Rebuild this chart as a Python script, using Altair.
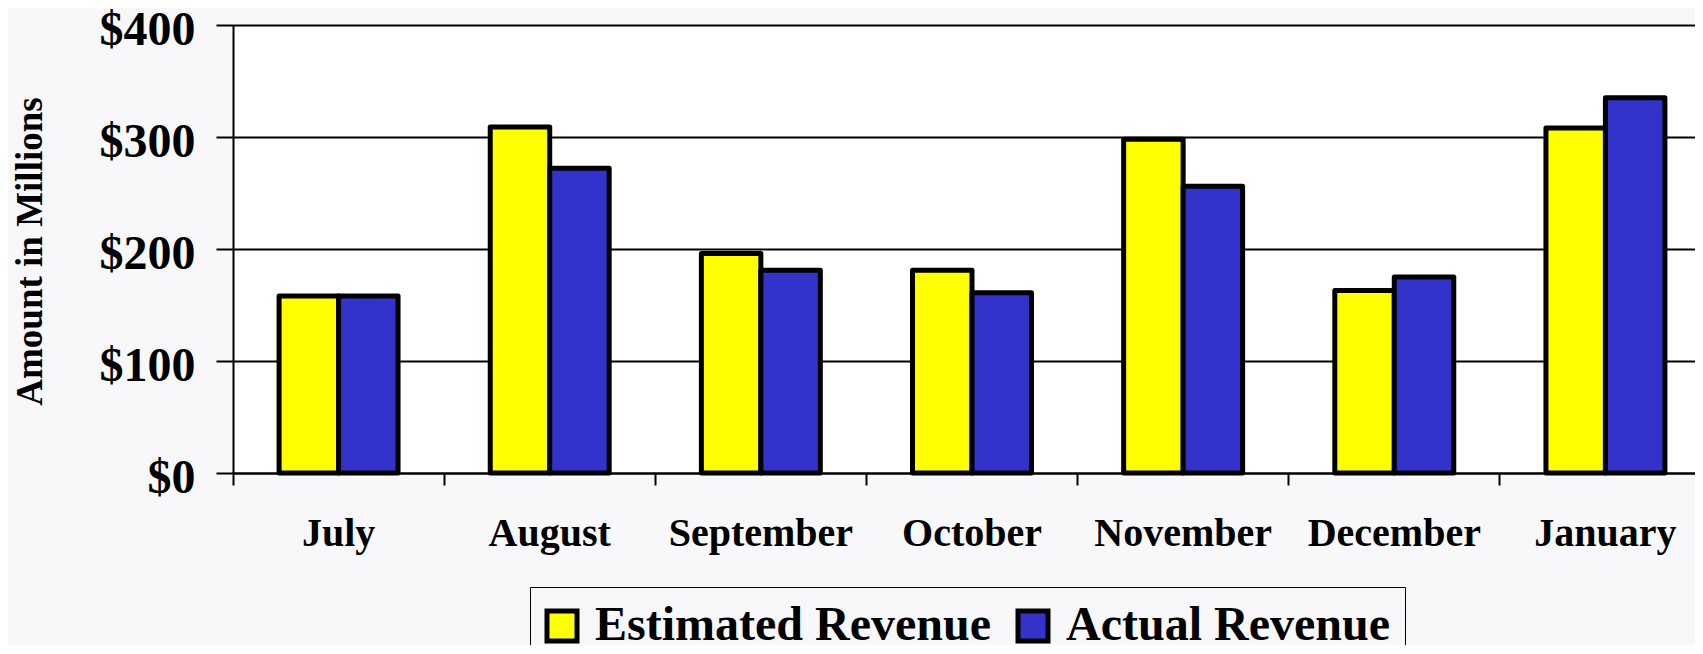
import altair as alt
import pandas as pd

months = ["July", "August", "September", "October", "November", "December", "January"]
estimated = [158, 309, 196, 181, 298, 163, 308]
actual = [158, 272, 181, 161, 256, 175, 335]
series_names = ["Estimated Revenue", "Actual Revenue"]
series_colors = ["#FFFF00", "#3333CC"]
y_ticks = [0, 100, 200, 300, 400]

rows = []
for m, e, a in zip(months, estimated, actual):
    rows.append({"month": m, "series": series_names[0], "value": e})
    rows.append({"month": m, "series": series_names[1], "value": a})
df = pd.DataFrame(rows)

FONT = "Liberation Serif"
BG = "#f8f8fa"

chart = alt.Chart(df).mark_bar(stroke="black", strokeWidth=5, strokeJoin="round").encode(
    x=alt.X(
        "month:N", sort=months,
        scale=alt.Scale(paddingInner=0, paddingOuter=0, range=[0, 1478]),
        axis=alt.Axis(
            title=None, bandPosition=0, labelAngle=0,
            labelFont=FONT, labelFontSize=40, labelFontWeight="bold", labelColor="black",
            labelBaseline="alphabetic", labelPadding=60.7, labelLimit=400,
            tickSize=12, tickColor="black", tickWidth=2,
            domainColor="black", domainWidth=2, grid=False,
        ),
    ),
    xOffset=alt.XOffset("series:N", sort=series_names,
                        scale=alt.Scale(paddingInner=0, paddingOuter=0.775)),
    y=alt.Y(
        "value:Q",
        scale=alt.Scale(domain=[0, 400], nice=False),
        axis=alt.Axis(
            values=y_ticks, labelExpr="'$' + datum.value",
            labelFont=FONT, labelFontSize=48, labelFontWeight="bold", labelColor="black",
            labelPadding=21, labelOffset=5,
            tickSize=17, tickColor="black", tickWidth=2,
            domainColor="black", domainWidth=2,
            grid=True, gridColor="black", gridWidth=2, gridOpacity=1,
            title="Amount in Millions", titleFont=FONT, titleFontSize=37,
            titleFontWeight="bold", titleColor="black", titleAngle=270,
            titleX=-192, titleY=226, titleBaseline="alphabetic", titleAlign="center",
        ),
    ),
    color=alt.Color(
        "series:N",
        scale=alt.Scale(domain=series_names, range=series_colors),
        legend=alt.Legend(
            title=None, orient="none", legendX=297, legendY=562, direction="horizontal",
            symbolType="square", symbolSize=900, symbolStrokeColor="black",
            symbolStrokeWidth=5, symbolOpacity=1, symbolOffset=-7,
            labelFont=FONT, labelFontSize=48, labelFontWeight="bold", labelColor="black",
            labelLimit=600, labelOffset=9, columnPadding=17, padding=15,
            strokeColor="black", fillColor=BG,
        ),
    ),
).properties(
    width=1462, height=448,
    autosize=alt.AutoSizeParams(type="none"),
    padding={"left": 225, "top": 17, "right": 0, "bottom": 172},
    background=BG,
).configure_view(strokeWidth=0, fill="white")

chart.save("out.html", embed_options={"renderer": "svg", "actions": False})
